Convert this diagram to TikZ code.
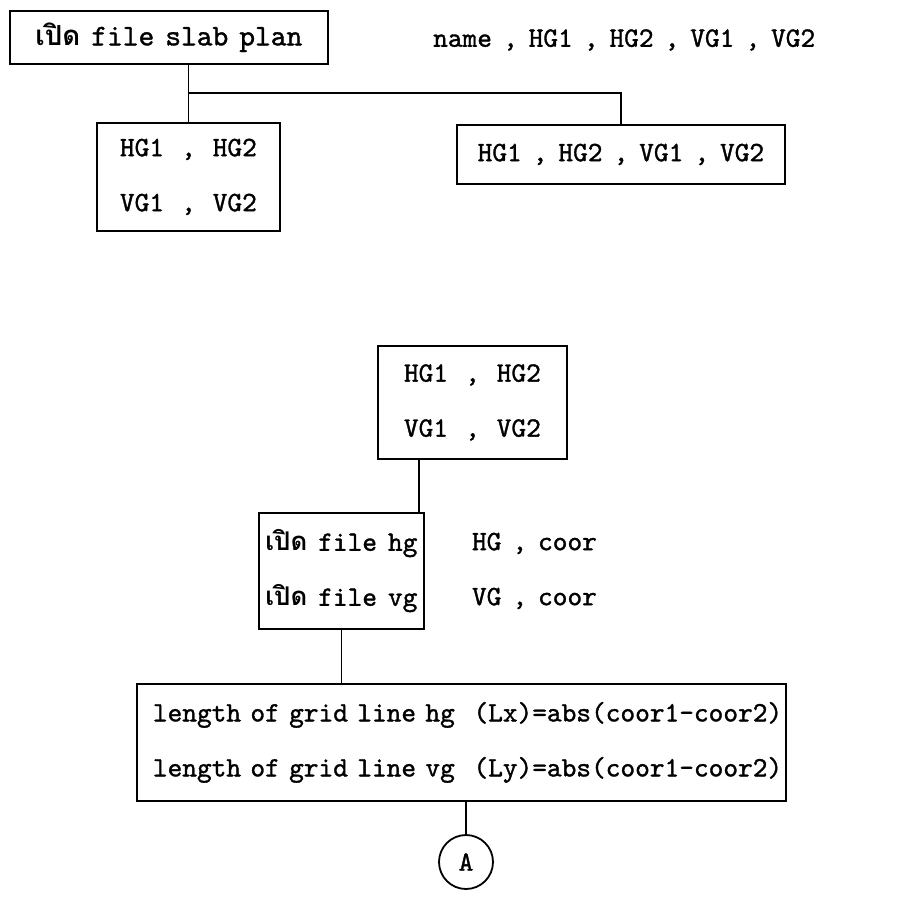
\documentclass[tikz,border=0pt]{standalone}
\usepackage{fontspec}
\setmonofont{lmmono10-regular.otf}[BoldFont=lmmono10-regular.otf, BoldFeatures={FakeBold=1.2}]
\newfontfamily\thaifont[Script=Thai,Scale=0.92]{Loma}
\newcommand\thtxt[1]{{\thaifont #1}}
\newcommand\twfont[1]{\ttfamily\bfseries\fontsize{#1}{55}\selectfont\fontdimen2\font=11pt\relax}
\newcommand\wc{\hspace{17pt},\hspace{17pt}}
\tikzset{
  box/.style={draw, line width=1.8pt, anchor=north west, inner sep=0pt,
    align=center, font=\twfont{28}},
  lbl/.style={inner sep=0pt, font=\twfont{28}},
  link/.style={line width=1.8pt},
}
\begin{document}
\begin{tikzpicture}[x=1pt,y=-1pt]
\useasboundingbox (0,0) rectangle (912,901);
% top part
\node[box, font=\twfont{30}, minimum width=318pt, minimum height=53pt] (b1) at (9,10)
  {\thtxt{เปิด} file slab plan};
\node[lbl, anchor=west] (t1) at (433,40) {name , HG1 , HG2 , VG1 , VG2};
\node[box, minimum width=183pt, minimum height=108pt] (b2) at (96,122)
  {HG1\wc HG2\\VG1\wc VG2};
\node[box, minimum width=328pt, minimum height=59pt] (b3) at (456,124)
  {HG1 , HG2 , VG1 , VG2};
\coordinate (j) at (188,93);
\draw[link] (b2.north |- b1.south) -- (b2.north);
\draw[link] (j) -- (j -| b3.north) -- (b3.north);
% lower part
\node[box, minimum width=189pt, minimum height=113pt] (b4) at (377,345)
  {HG1\wc HG2\\VG1\wc VG2};
\node[box, align=left, minimum width=165pt, minimum height=116pt] (b5) at (258,512)
  {\thtxt{เปิด} file hg\\\thtxt{เปิด} file vg};
\node[lbl, align=left, anchor=west] (side) at ([xshift=47pt]b5.east)
  {HG , coor\\VG , coor};
\node[box, font={\twfont{28}\fontdimen2\font=10pt\relax}, align=left, inner xsep=16pt,
  text width=617pt, minimum height=117pt] (b6) at (136,683)
  {\mbox{length of grid line hg~~(Lx)=abs(coor1-coor2)}\\\mbox{length of grid line vg~~(Ly)=abs(coor1-coor2)}};
\node[draw, circle, line width=1.8pt, minimum size=54pt, inner sep=0pt,
  font=\twfont{28}] (a) at (466,862) {A};
\coordinate (k) at (419,0);
\draw[link] (k |- b4.south) -- (k |- b5.north);
\draw[link] (b5.south) -- (b5.south |- b6.north);
\draw[link] (a.north |- b6.south) -- (a.north);
\end{tikzpicture}
\end{document}
